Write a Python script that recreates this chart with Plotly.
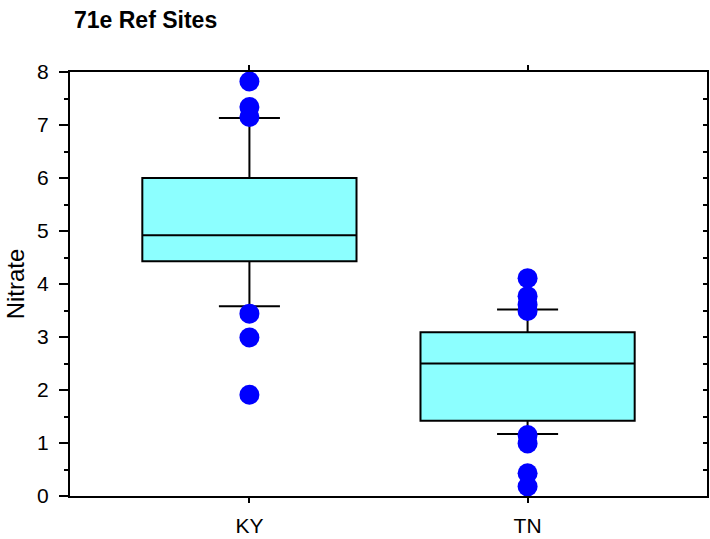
import plotly.graph_objects as go

# Nitrate summary for the 71e reference sites, by state
states = ["KY", "TN"]
q1 = [4.43, 1.42]
median = [4.92, 2.50]
q3 = [6.00, 3.09]
lower_whisker = [3.58, 1.17]
upper_whisker = [7.13, 3.52]

# Points beyond the whiskers
ky_outliers = [7.82, 7.34, 7.15, 3.44, 2.99, 1.91]
tn_outliers = [4.11, 3.77, 3.61, 3.49, 1.15, 0.99, 0.43, 0.18]

y_ticks = [0, 1, 2, 3, 4, 5, 6, 7, 8]
y_range = [0, 8]

font_family = "Liberation Sans, Arial, sans-serif"

fig = go.Figure()

fig.add_trace(go.Box(
    x=states,
    q1=q1,
    median=median,
    q3=q3,
    lowerfence=lower_whisker,
    upperfence=upper_whisker,
    boxpoints=False,
    width=0.77,
    whiskerwidth=0.285,
    fillcolor="#8CFFFF",
    line=dict(color="black", width=2),
    showlegend=False,
    hoverinfo="skip",
))

out_x = ["KY"] * len(ky_outliers) + ["TN"] * len(tn_outliers)
out_y = ky_outliers + tn_outliers
fig.add_trace(go.Scatter(
    x=out_x,
    y=out_y,
    mode="markers",
    marker=dict(color="#0000FF", size=20, line=dict(width=0)),
    showlegend=False,
    cliponaxis=False,
))

# Invisible trace so the right-hand axis (inside ticks) is drawn
fig.add_trace(go.Scatter(
    x=[states[0]], y=[None], yaxis="y2", mode="markers",
    showlegend=False, hoverinfo="skip",
))

fig.update_layout(
    width=710,
    height=539,
    margin=dict(l=70, r=3, t=72, b=43),
    paper_bgcolor="white",
    plot_bgcolor="white",
    font=dict(family=font_family, color="black", size=21),
    title=dict(
        text="<b>71e Ref Sites</b>",
        font=dict(family=font_family, size=23, color="black"),
        xref="container", x=74 / 710, xanchor="left",
        yref="container", y=1 - 20 / 539, yanchor="middle",
    ),
    xaxis=dict(
        type="category",
        range=[-0.645, 1.645],
        showline=True, linecolor="black", linewidth=2,
        mirror="ticks",
        ticks="outside", ticklen=5, tickwidth=2, tickcolor="black",
        showgrid=False, zeroline=False,
        tickfont=dict(size=21),
        ticklabelstandoff=5,
    ),
    yaxis=dict(
        range=y_range,
        tickvals=y_ticks,
        showline=True, linecolor="black", linewidth=2,
        ticks="outside", ticklen=9, tickwidth=2, tickcolor="black",
        minor=dict(dtick=0.5, ticks="outside", ticklen=4, tickwidth=2, tickcolor="black"),
        showgrid=False, zeroline=False,
        tickfont=dict(size=21),
        ticklabelstandoff=6,
        title=dict(text="Nitrate", font=dict(size=24), standoff=6),
    ),
    yaxis2=dict(
        overlaying="y",
        side="right",
        range=y_range,
        dtick=0.5, tick0=0,
        showline=True, linecolor="black", linewidth=2,
        ticks="inside", ticklen=4, tickwidth=2, tickcolor="black",
        showticklabels=False, showgrid=False, zeroline=False,
    ),
)

fig.write_html("out.html")
